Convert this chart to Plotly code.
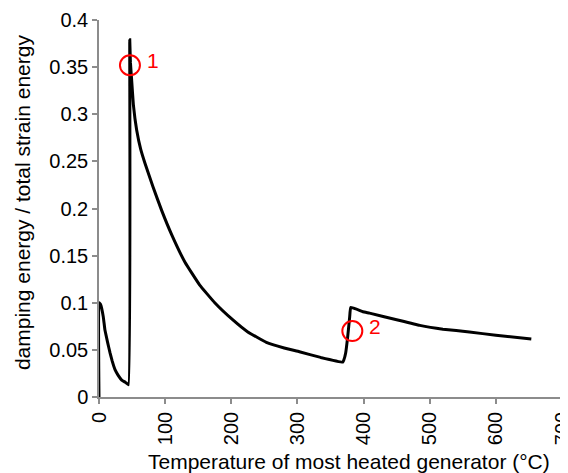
import plotly.graph_objects as go

temperature = [0, 0, 2.5, 6.5, 9, 13, 16.6, 20, 24.2, 29, 34.3, 40, 44.5,
               46.5, 47.5, 49.4, 52, 57, 63, 69.5, 81.6, 94.7, 110, 130, 152,
               175, 202, 225, 253, 280, 303, 335, 368.6, 370, 373, 376, 379,
               380.6, 399, 409, 450, 485, 520, 560, 600, 653.6]
energy_ratio = [0, 0.100, 0.098, 0.085, 0.071, 0.058, 0.047, 0.038, 0.029,
                0.023, 0.018, 0.0155, 0.013, 0.379, 0.355, 0.336, 0.31,
                0.283, 0.263, 0.248, 0.223, 0.198, 0.172, 0.143, 0.119,
                0.100, 0.082, 0.069, 0.058, 0.052, 0.048, 0.042, 0.037,
                0.039, 0.047, 0.064, 0.085, 0.095, 0.0905, 0.089, 0.082,
                0.076, 0.072, 0.069, 0.0655, 0.0615]

marker_x = [46.8, 383]
marker_y = [0.352, 0.070]
marker_labels = ["1", "2"]

x_ticks = [0, 100, 200, 300, 400, 500, 600, 700]
y_ticks = [0, 0.05, 0.1, 0.15, 0.2, 0.25, 0.3, 0.35, 0.4]
y_tick_text = ["0", "0.05", "0.1", "0.15", "0.2", "0.25", "0.3", "0.35", "0.4"]

font = "Liberation Sans"

fig = go.Figure()
fig.add_trace(go.Scatter(x=temperature, y=energy_ratio, mode="lines",
                         line=dict(color="black", width=3, shape="spline", smoothing=0.3),
                         showlegend=False, hoverinfo="skip"))
fig.add_trace(go.Scatter(x=marker_x, y=marker_y, mode="markers",
                         marker=dict(symbol="circle-open", size=20, color="red",
                                     line=dict(color="red", width=2)),
                         showlegend=False, hoverinfo="skip"))

annotations = [
    dict(text="Temperature of most heated generator (°C)", xref="paper", yref="paper",
         x=0.54, y=-0.172, xanchor="center", yanchor="middle", showarrow=False,
         font=dict(family=font, size=21, color="black")),
    dict(text="damping energy / total strain energy", xref="paper", yref="paper",
         x=0, y=0.517, xanchor="center", yanchor="middle", showarrow=False,
         textangle=-90, font=dict(family=font, size=21, color="black"), xshift=-77),
]
for mx, my, lab in zip(marker_x, marker_y, marker_labels):
    annotations.append(dict(text=lab, x=mx, y=my, xref="x", yref="y", showarrow=False,
                            xanchor="center", yanchor="middle", xshift=23, yshift=5,
                            font=dict(family=font, size=21, color="red")))

axis_common = dict(showgrid=False, zeroline=False, showline=True, automargin=False,
                   linecolor="#8c8c8c", linewidth=1.5, ticks="outside",
                   ticklen=5, tickcolor="#8c8c8c", tickwidth=1.5,
                   tickfont=dict(family=font, size=20, color="black"))

fig.update_layout(
    width=560, height=465,
    margin=dict(l=91, r=6, t=12, b=76),
    font=dict(family=font),
    paper_bgcolor="white", plot_bgcolor="white",
    xaxis=dict(range=[0, 700], tickvals=x_ticks, tickangle=-90,
               ticklabeloverflow="allow", **axis_common),
    yaxis=dict(range=[0, 0.4], tickvals=y_ticks, ticktext=y_tick_text, **axis_common),
    annotations=annotations,
)
fig.write_html("out.html")
